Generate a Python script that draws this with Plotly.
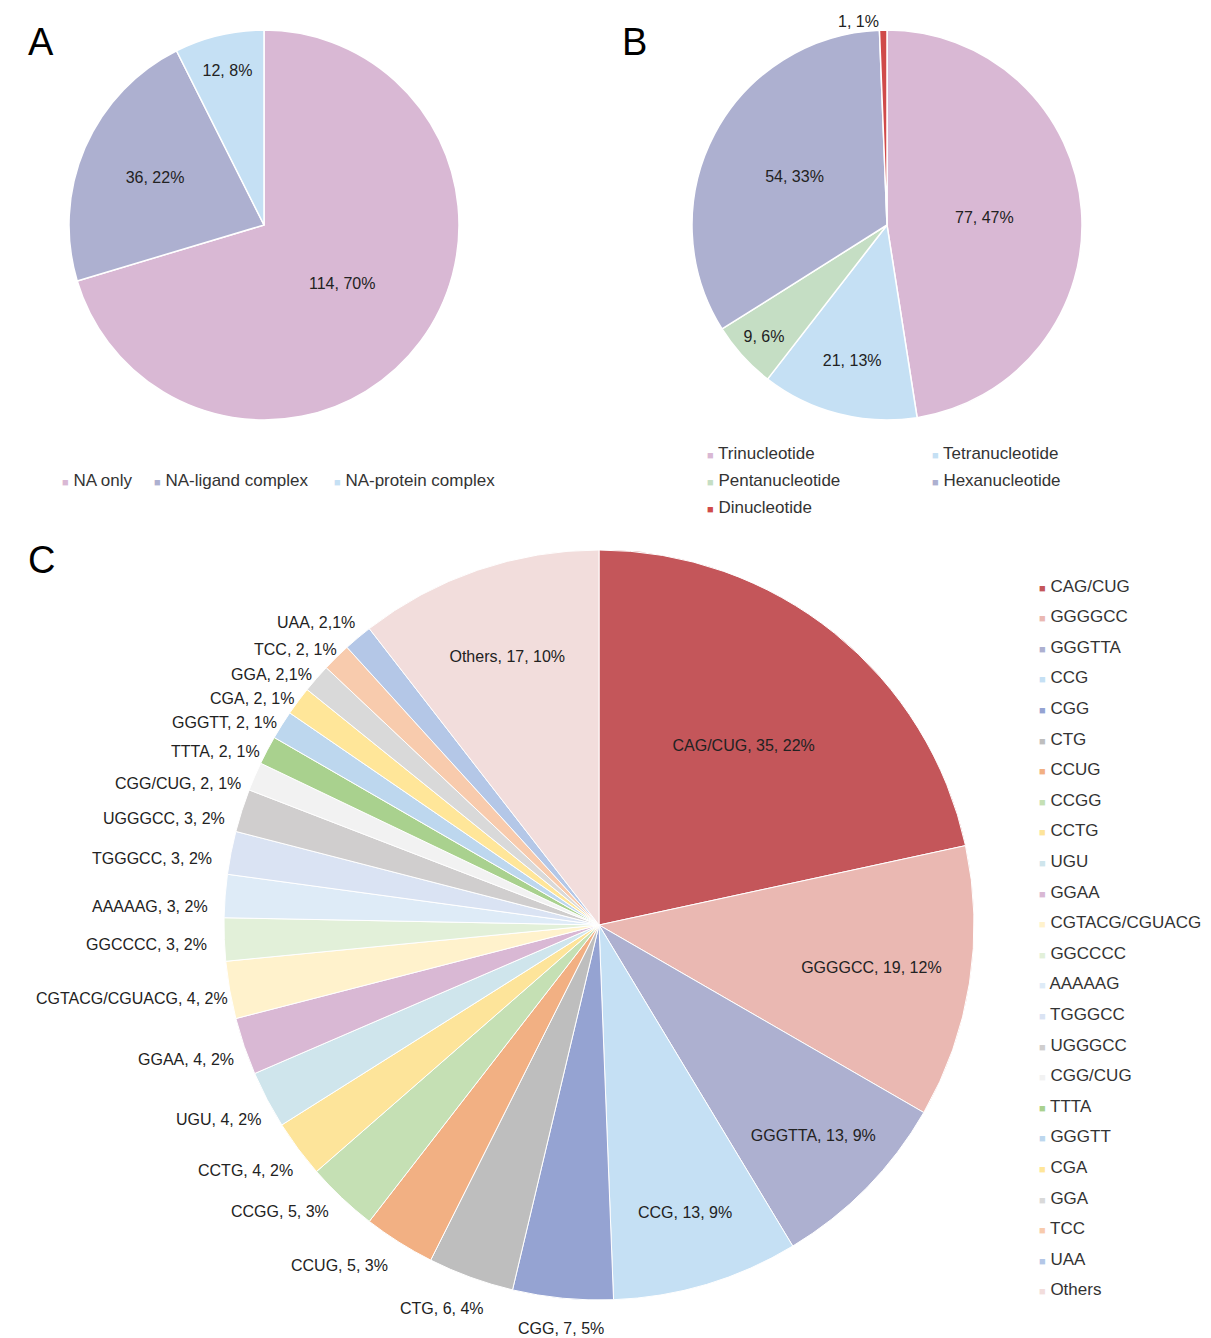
"""Three-panel pie figure: NA structure types, repeat unit lengths, repeat motifs."""
import plotly.graph_objects as go

W, H = 1211, 1338
FONT = "Arial, Liberation Sans, sans-serif"

A_LABELS = ["NA only", "NA-ligand complex", "NA-protein complex"]
A_VALUES = [114, 36, 12]
A_TEXT = ["114, 70%", "36, 22%", "12, 8%"]
A_COLORS = ["#D9B8D4", "#ADB0D0", "#C5E0F4"]

B_LABELS = ["Trinucleotide", "Tetranucleotide", "Pentanucleotide", "Hexanucleotide", "Dinucleotide"]
B_VALUES = [77, 21, 9, 54, 1]
B_TEXT = ["77, 47%", "21, 13%", "9, 6%", "54, 33%", "1, 1%"]
B_COLORS = ["#D9B8D4", "#C5E0F4", "#C5DEC4", "#ADB0D0", "#D04A4A"]

C_LABELS = ["CAG/CUG", "GGGGCC", "GGGTTA", "CCG", "CGG", "CTG", "CCUG", "CCGG", "CCTG",
            "UGU", "GGAA", "CGTACG/CGUACG", "GGCCCC", "AAAAAG", "TGGGCC", "UGGGCC",
            "CGG/CUG", "TTTA", "GGGTT", "CGA", "GGA", "TCC", "UAA", "Others"]
C_VALUES = [35, 19, 13, 13, 7, 6, 5, 5, 4, 4, 4, 4, 3, 3, 3, 3, 2, 2, 2, 2, 2, 2, 2, 17]
C_TEXT = ["CAG/CUG, 35, 22%", "GGGGCC, 19, 12%", "GGGTTA, 13, 9%", "CCG, 13, 9%",
          "CGG, 7, 5%", "CTG, 6, 4%", "CCUG, 5, 3%", "CCGG, 5, 3%", "CCTG, 4, 2%",
          "UGU, 4, 2%", "GGAA, 4, 2%", "CGTACG/CGUACG, 4, 2%", "GGCCCC, 3, 2%",
          "AAAAAG, 3, 2%", "TGGGCC, 3, 2%", "UGGGCC, 3, 2%", "CGG/CUG, 2, 1%",
          "TTTA, 2, 1%", "GGGTT, 2, 1%", "CGA, 2, 1%", "GGA, 2,1%", "TCC, 2, 1%",
          "UAA, 2,1%", "Others, 17, 10%"]
C_COLORS = ["#C4565A", "#EAB8B2", "#ADB0D0", "#C5E0F4", "#95A3D2", "#BEBEBE", "#F2B083",
            "#C5E0B4", "#FDE49A", "#CFE5EC", "#D9B8D4", "#FFF2CC", "#E2F0D9", "#DEEBF7",
            "#DAE3F3", "#D0CECE", "#F2F2F2", "#A9D18E", "#BDD7EE", "#FFE699", "#D9D9D9",
            "#F8CBAD", "#B4C7E7", "#F2DDDC"]
C_INSIDE = {"CAG/CUG", "GGGGCC", "GGGTTA", "CCG", "Others"}
# outside label anchor (right edge x, middle y) in pixels, for the small slices
C_OUTSIDE_POS = {
    "CGG": (598, 1320), "CTG": (478, 1300), "CCUG": (382, 1257), "CCGG": (323, 1203),
    "CCTG": (287, 1162), "UGU": (255, 1111), "GGAA": (228, 1051),
    "CGTACG/CGUACG": (222, 991), "GGCCCC": (201, 937), "AAAAAG": (202, 898),
    "TGGGCC": (206, 850), "UGGGCC": (219, 810), "CGG/CUG": (235, 775),
    "TTTA": (254, 743), "GGGTT": (271, 714), "CGA": (288, 690), "GGA": (306, 666),
    "TCC": (331, 641), "UAA": (349, 614),
}


def dom(x0, x1, y0, y1):
    return dict(x=[x0 / W, x1 / W], y=[1 - y1 / H, 1 - y0 / H])


fig = go.Figure()
fig.add_trace(go.Pie(
    labels=A_LABELS, values=A_VALUES, text=A_TEXT, textinfo="text", sort=False,
    direction="clockwise", rotation=0, textposition="inside", insidetextorientation="horizontal",
    marker=dict(colors=A_COLORS, line=dict(color="white", width=1.5)),
    domain=dom(61, 451, 22, 412), showlegend=False, textfont=dict(size=16, color="#222"),
))
fig.add_trace(go.Pie(
    labels=B_LABELS, values=B_VALUES, text=B_TEXT, textinfo="text", sort=False,
    direction="clockwise", rotation=0,
    textposition=["inside", "inside", "inside", "inside", "outside"],
    insidetextorientation="horizontal",
    marker=dict(colors=B_COLORS, line=dict(color="white", width=1.5)),
    domain=dom(684, 1074, 22, 412), showlegend=False, textfont=dict(size=16, color="#222"),
))
fig.add_trace(go.Pie(
    labels=C_LABELS, values=C_VALUES, text=C_TEXT, textinfo="text", sort=False,
    direction="clockwise", rotation=0,
    textposition=["inside" if l in C_INSIDE else "none" for l in C_LABELS],
    insidetextorientation="horizontal",
    marker=dict(colors=C_COLORS, line=dict(color="white", width=1)),
    domain=dom(216, 966, 542, 1292), showlegend=False, textfont=dict(size=16, color="#222"),
))


def ann(text, x, y, xanchor="left", size=16, color="#222"):
    fig.add_annotation(text=text, x=x / W, y=1 - y / H, xref="paper", yref="paper",
                       xanchor=xanchor, yanchor="middle", showarrow=False,
                       font=dict(size=size, color=color, family=FONT))


for lab, txt in zip(C_LABELS, C_TEXT):
    if lab in C_OUTSIDE_POS:
        x, y = C_OUTSIDE_POS[lab]
        ann(txt, x, y, xanchor="right")

for letter, x, y in [("A", 18, 34), ("B", 612, 34), ("C", 18, 552)]:
    ann(letter, x, y, size=38, color="black")


def legend_item(label, color, x, y):
    ann(f"<span style='color:{color};font-size:11px'>■</span> {label}", x, y, size=17, color="#333")


# legend A: one row
for label, color, x in zip(A_LABELS, A_COLORS, [52, 144, 324]):
    legend_item(label, color, x, 472)
# legend B: two columns
B_LEG_POS = [(697, 446), (922, 446), (697, 472), (922, 472), (697, 499)]
for label, color, (x, y) in zip(B_LABELS, B_COLORS, B_LEG_POS):
    legend_item(label, color, x, y)
# legend C: one column
for i, (label, color) in enumerate(zip(C_LABELS, C_COLORS)):
    legend_item(label, color, 1029, 578 + i * 30.6)

fig.update_layout(
    width=W, height=H, margin=dict(l=0, r=0, t=0, b=0),
    paper_bgcolor="white", font=dict(family=FONT), showlegend=False,
)
fig.write_html("out.html")
